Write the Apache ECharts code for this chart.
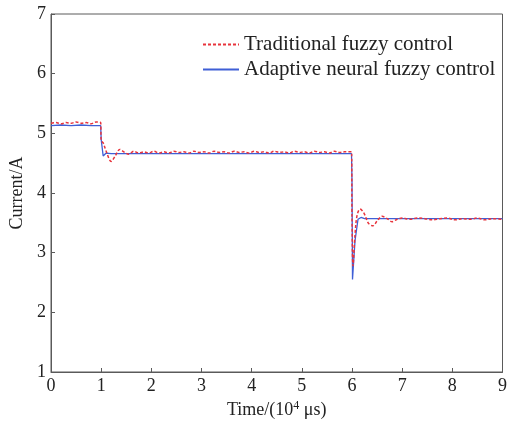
<!DOCTYPE html>
<html>
<head>
<meta charset="utf-8">
<style>
  html, body { margin: 0; padding: 0; background: #fff; }
  #chart { width: 510px; height: 425px; }
</style>
<script src="https://cdn.jsdelivr.net/npm/echarts@6/dist/echarts.min.js"></script>
</head>
<body>
<div id="chart"></div>
<script>
// Time axis in units of 10^4 microseconds
const xTicks = [0, 1, 2, 3, 4, 5, 6, 7, 8, 9];
const yTicks = [1, 2, 3, 4, 5, 6, 7];

const seriesNames = ['Traditional fuzzy control', 'Adaptive neural fuzzy control'];

// Traditional fuzzy controller response
const timeTraditional = [
  0, 0.1, 0.2, 0.3, 0.4, 0.5, 0.6, 0.7, 0.8, 0.9, 0.99,
  1.0, 1.04, 1.1, 1.2, 1.28, 1.37, 1.45, 1.55, 1.65, 1.75, 1.85, 1.95,
  2.05, 2.15, 2.25, 2.35, 2.45, 2.55, 2.65, 2.75, 2.85, 2.95,
  3.05, 3.15, 3.25, 3.35, 3.45, 3.55, 3.65, 3.75, 3.85, 3.95,
  4.05, 4.15, 4.25, 4.35, 4.45, 4.55, 4.65, 4.75, 4.85, 4.95,
  5.05, 5.15, 5.25, 5.35, 5.45, 5.55, 5.65, 5.75, 5.85, 5.99,
  6.0, 6.02, 6.06, 6.1, 6.16, 6.24, 6.33, 6.42, 6.5, 6.6, 6.7, 6.8, 6.9, 7.0,
  7.15, 7.3, 7.45, 7.6, 7.75, 7.9, 8.05, 8.2, 8.35, 8.5, 8.65, 8.8, 9.0
];
const currentTraditional = [
  5.17, 5.18, 5.16, 5.18, 5.17, 5.19, 5.17, 5.18, 5.16, 5.19, 5.18,
  4.88, 4.84, 4.70, 4.53, 4.62, 4.73, 4.69, 4.65, 4.70, 4.67, 4.69, 4.67,
  4.70, 4.67, 4.69, 4.67, 4.70, 4.68, 4.69, 4.67, 4.70, 4.68,
  4.69, 4.67, 4.70, 4.68, 4.69, 4.67, 4.70, 4.68, 4.69, 4.67,
  4.70, 4.68, 4.69, 4.67, 4.70, 4.68, 4.69, 4.67, 4.70, 4.68,
  4.69, 4.67, 4.70, 4.68, 4.69, 4.67, 4.70, 4.68, 4.69, 4.69,
  3.60, 2.78, 3.30, 3.62, 3.73, 3.66, 3.49, 3.45, 3.53, 3.61, 3.57, 3.52, 3.56, 3.58,
  3.56, 3.58, 3.57, 3.55, 3.57, 3.58, 3.55, 3.57, 3.56, 3.58, 3.55, 3.57, 3.56
];

// Adaptive neural fuzzy controller response
const timeAdaptive = [
  0, 0.2, 0.4, 0.6, 0.8, 0.99,
  1.0, 1.04, 1.1, 1.2, 1.5, 2.0, 3.0, 4.0, 5.0, 5.99,
  6.0, 6.01, 6.06, 6.12, 6.18, 6.25, 7.0, 8.0, 9.0
];
const currentAdaptive = [
  5.13, 5.14, 5.13, 5.14, 5.13, 5.13,
  4.90, 4.62, 4.67, 4.66, 4.66, 4.66, 4.66, 4.66, 4.66, 4.66,
  4.20, 2.55, 3.20, 3.56, 3.59, 3.57, 3.57, 3.57, 3.57
];

const toPairs = (xs, ys) => xs.map((x, i) => [x, ys[i]]);

const serif = '"Liberation Serif", "DejaVu Serif", serif';
const textColor = '#222';
const frameColor = '#5a5a5a';

const chart = echarts.init(document.getElementById('chart'), null, { renderer: 'canvas' });

chart.setOption({
  animation: false,
  backgroundColor: '#fff',
  grid: {
    left: 51, right: 4, top: 14, bottom: 53,
    show: true, borderColor: frameColor, borderWidth: 1
  },
  legend: {
    orient: 'vertical',
    left: 202, top: 34,
    padding: 0,
    itemWidth: 36, itemHeight: 14, itemGap: 4,
    // legend keys show only the line, without a marker
    itemStyle: { color: 'transparent', borderColor: 'transparent', borderWidth: 0 },
    textStyle: { fontFamily: serif, fontSize: 21, color: textColor, padding: [0, 0, 0, 0] },
    data: seriesNames
  },
  xAxis: {
    type: 'value',
    min: xTicks[0], max: xTicks[xTicks.length - 1], interval: 1,
    axisLine: { show: true, lineStyle: { color: frameColor, width: 1 } },
    axisTick: { show: true, inside: true, length: 4, lineStyle: { color: frameColor } },
    splitLine: { show: false },
    axisLabel: { fontFamily: serif, fontSize: 18, color: textColor, margin: 5 },
    name: 'Time/(10{sup|4} μs)',
    nameLocation: 'middle',
    nameGap: 26,
    nameTextStyle: {
      fontFamily: serif, fontSize: 18, color: textColor,
      rich: { sup: { fontFamily: serif, fontSize: 12, color: textColor, verticalAlign: 'top', padding: [0, 0, 8, 0] } }
    }
  },
  yAxis: {
    type: 'value',
    min: yTicks[0], max: yTicks[yTicks.length - 1], interval: 1,
    axisLine: { show: true, lineStyle: { color: frameColor, width: 1 } },
    axisTick: { show: true, inside: true, length: 4, lineStyle: { color: frameColor } },
    splitLine: { show: false },
    axisLabel: { fontFamily: serif, fontSize: 18, color: textColor, margin: 5 },
    name: 'Current/A',
    nameLocation: 'middle',
    nameGap: 18,
    nameRotate: 90,
    nameTextStyle: { fontFamily: serif, fontSize: 18, color: textColor }
  },
  series: [
    {
      name: seriesNames[0],
      type: 'line',
      data: toPairs(timeTraditional, currentTraditional),
      symbol: 'none',
      smooth: 0.35,
      lineStyle: { color: '#e8343c', width: 1.5, type: [3, 2] },
      itemStyle: { color: '#e8343c' },
      z: 3
    },
    {
      name: seriesNames[1],
      type: 'line',
      data: toPairs(timeAdaptive, currentAdaptive),
      symbol: 'none',
      lineStyle: { color: '#3f5fd6', width: 1.3 },
      itemStyle: { color: '#3f5fd6' },
      z: 2
    }
  ]
});
</script>
</body>
</html>
